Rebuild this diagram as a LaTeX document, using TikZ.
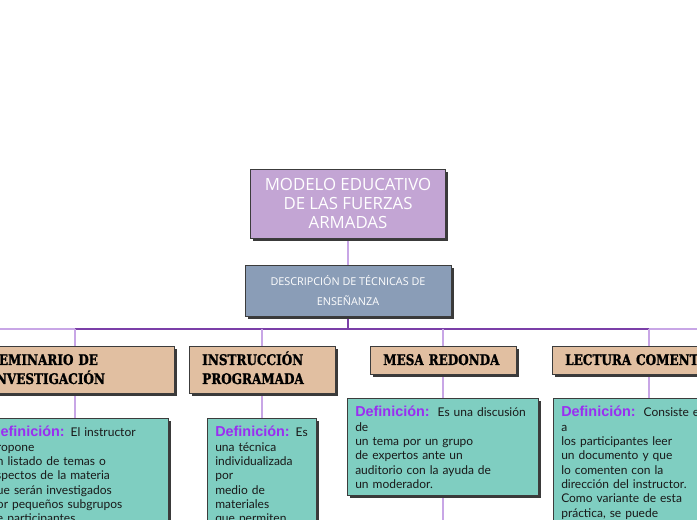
\documentclass[tikz,border=0pt]{standalone}
\usepackage{fontspec}
\setmainfont{Lato}
\newfontfamily\mainfont{Open Sans}
\newfontfamily\deffont{Liberation Sans}
\newfontfamily\titlefont{DejaVu Serif}[FakeStretch=0.82,FakeBold=1.2]
\usetikzlibrary{shadows,backgrounds}
\definecolor{mainc}{HTML}{C3A5D4}
\definecolor{descc}{HTML}{8A9DB7}
\definecolor{tanc}{HTML}{E1BFA1}
\definecolor{tealc}{HTML}{7FCEC1}
\definecolor{boxline}{HTML}{3C3C3C}
\definecolor{shadowc}{HTML}{3A3A3A}
\definecolor{lightc}{HTML}{C8A6E6}
\definecolor{darkc}{HTML}{7B3FA8}
\definecolor{defc}{HTML}{9A2EF2}
\newcommand{\defi}[1]{{\deffont\bfseries\fontsize{10.8}{10.8}\selectfont\color{defc}#1}}
\begin{document}
\begin{tikzpicture}[x=0.75pt,y=-0.75pt,
  box/.style={draw=boxline, line width=0.7pt, inner sep=0pt,
    drop shadow={shadow xshift=2.2pt, shadow yshift=-2.2pt, fill=shadowc, opacity=1}},
  titletext/.style={anchor=base west, inner sep=0pt, text width=160pt, align=left,
    font=\titlefont\bfseries\fontsize{11}{14.25}\selectfont, text=black},
  deftext/.style={anchor=base west, inner sep=0pt, text width=220pt, align=left,
    font=\fontsize{9}{10.75}\selectfont, text=black!90},
  lightline/.style={draw=lightc, line width=0.8pt},
  darkline/.style={draw=darkc, line width=1pt}]
\useasboundingbox (0,0) rectangle (697,520);
\begin{scope}
\clip (0,0) rectangle (697,520);
% top boxes
\node[box, fill=mainc, minimum width=146.25pt, minimum height=51.75pt,
  align=center, text=white, font=\mainfont\fontsize{12.6}{14.6}\selectfont] (m) at (348,203.5)
  {MODELO EDUCATIVO\\DE LAS FUERZAS\\ARMADAS};
\node[box, fill=descc, minimum width=154.5pt, minimum height=38.25pt,
  align=center, text=white, font=\mainfont\fontsize{8.1}{14.3}\selectfont] (d) at (348,290.5)
  {DESCRIPCIÓN DE TÉCNICAS DE\\ENSEÑANZA};
% title boxes
\node[box, fill=tanc, minimum width=148.5pt, minimum height=35.25pt] (t1) at (75,369.5) {};
\node[box, fill=tanc, minimum width=109.5pt, minimum height=35.25pt] (t2) at (262,369.5) {};
\node[box, fill=tanc, minimum width=109.5pt, minimum height=21pt] (t3) at (443,360) {};
\node[box, fill=tanc, minimum width=145.5pt, minimum height=21pt] (t4) at (649,360) {};
\node[titletext] (t1x) at (-10,365) {SEMINARIO DE\\INVESTIGACIÓN};
\node[titletext] (t2x) at (202,365) {INSTRUCCIÓN\\PROGRAMADA};
\node[titletext] (t3x) at (383,365) {MESA REDONDA};
\node[titletext] (t4x) at (565,365) {LECTURA COMENTADA};
% definition boxes
\node[box, fill=tealc, minimum width=139.5pt, minimum height=97.5pt, anchor=north] (b1) at (75,418) {};
\node[box, fill=tealc, minimum width=81.75pt, minimum height=97.5pt, anchor=north] (b2) at (262,418) {};
\node[box, fill=tealc, minimum width=143.25pt, minimum height=72.75pt, anchor=north] (b3) at (443,398) {};
\node[box, fill=tealc, minimum width=144pt, minimum height=112.5pt, anchor=north] (b4) at (649,398) {};
\node[deftext] (b1x) at (-10,437) {\defi{Definición:} El instructor\\propone\\un listado de temas o\\aspectos de la materia\\que serán investigados\\por pequeños subgrupos\\de participantes.};
\node[deftext] (b2x) at (215,437) {\defi{Definición:} Es\\una técnica\\individualizada\\por\\medio de\\materiales\\que permiten};
\node[deftext] (b3x) at (355,417) {\defi{Definición:}\ \ Es una discusión\\de\\un tema por un grupo\\de expertos ante un\\auditorio con la ayuda de\\un moderador.};
\node[deftext] (b4x) at (561,417) {\defi{Definición:}\ \ Consiste en\\a\\los participantes leer\\un documento y que\\lo comenten con la\\dirección del instructor.\\Como variante de esta\\práctica, se puede};
\end{scope}
% connectors
\begin{pgfonlayer}{background}
\coordinate (hl) at (0,329);
\coordinate (hr) at (697,329);
\coordinate (hc) at (348,329);
\coordinate (h1) at (75,329);
\coordinate (h2) at (262,329);
\coordinate (h3) at (443,329);
\coordinate (h4) at (649,329);
\coordinate (e3) at (443,520);
\draw[lightline] (m.south) -- (d.north);
\draw[lightline] (hl) -- (hr);
\draw[darkline] (h1) -- (h4);
\draw[darkline] (d.south) -- (hc);
\draw[lightline] (h1) -- (t1.north);
\draw[lightline] (h2) -- (t2.north);
\draw[lightline] (h3) -- (t3.north);
\draw[lightline] (h4) -- (t4.north);
\draw[lightline] (t1.south) -- (b1.north);
\draw[lightline] (t2.south) -- (b2.north);
\draw[lightline] (t3.south) -- (b3.north);
\draw[lightline] (t4.south) -- (b4.north);
\draw[lightline] (b3.south) -- (e3);
\end{pgfonlayer}
\end{tikzpicture}
\end{document}
